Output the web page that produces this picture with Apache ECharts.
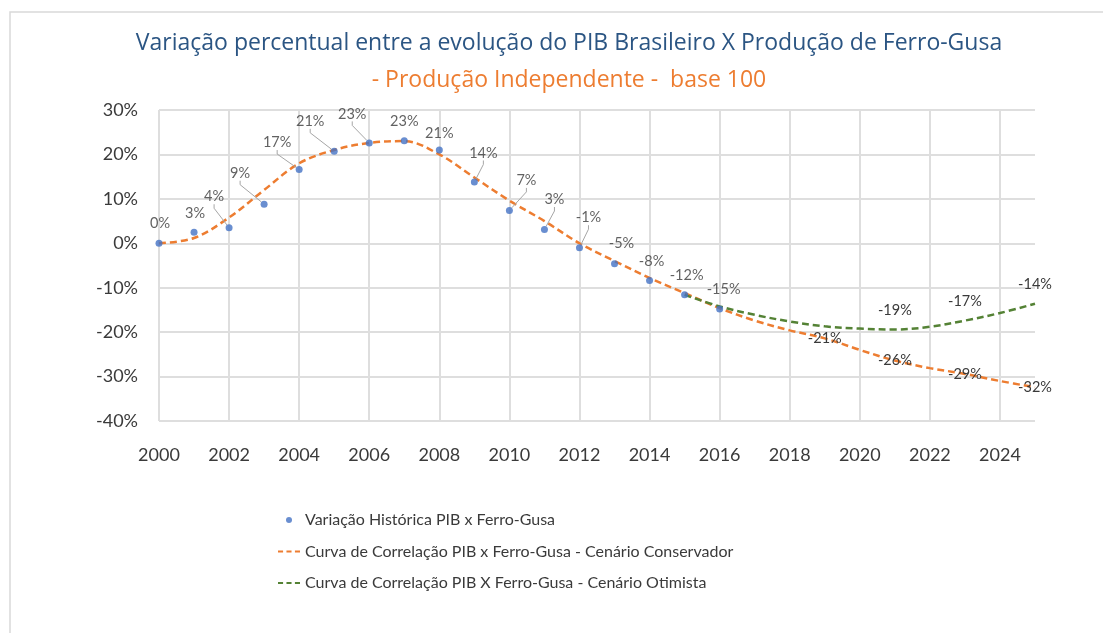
<!DOCTYPE html>
<html>
<head>
<meta charset="utf-8">
<script src="https://cdn.jsdelivr.net/npm/echarts@6/dist/echarts.min.js"></script>
<style>
  html, body { margin: 0; padding: 0; background: #ffffff; }
  #chart { width: 1103px; height: 633px; }
</style>
</head>
<body>
<div id="chart"></div>
<script>
// Titles and legend names
const titleText = 'Variação percentual entre a evolução do PIB Brasileiro X Produção de Ferro-Gusa';
const subtitleText = '- Produção Independente -  base 100';
const nameHist = 'Variação Histórica PIB x Ferro-Gusa';
const nameConserv = 'Curva de Correlação PIB x Ferro-Gusa - Cenário Conservador';
const nameOptim = 'Curva de Correlação PIB X Ferro-Gusa - Cenário Otimista';

// Historical variation (%), one point per year
const histYears = [2000, 2001, 2002, 2003, 2004, 2005, 2006, 2007, 2008, 2009, 2010, 2011, 2012, 2013, 2014, 2015, 2016];
const histValues = [0, 2.5, 3.5, 8.8, 16.6, 20.7, 22.6, 23.1, 21.0, 13.8, 7.4, 3.1, -1.0, -4.6, -8.4, -11.6, -14.8];

// Correlation curve, conservative scenario (%)
const conservYears = [2000, 2001, 2002, 2003, 2004, 2005, 2006, 2007, 2008, 2009, 2010, 2011, 2012,
                      2013, 2014, 2015, 2016, 2017, 2018, 2019, 2020, 2021, 2022, 2023, 2024, 2025];
const conservValues = [0, 1.2, 5.8, 12.0, 18.0, 21.0, 22.6, 23.0, 20.0, 14.8, 9.6, 5.0, 0.0,
                       -4.0, -7.8, -11.2, -14.6, -17.4, -19.6, -21.4, -24.0, -26.4, -28.1, -29.4, -31.0, -32.4];
const conservLabelYears = [2019, 2021, 2023, 2025];

// Correlation curve, optimistic scenario (%)
const optimYears = [2015, 2016, 2017, 2018, 2019, 2020, 2021, 2022, 2023, 2024, 2025];
const optimValues = [-11.6, -14.2, -16.1, -17.6, -18.7, -19.2, -19.4, -18.8, -17.4, -15.7, -13.6];
const optimLabelYears = [2021, 2023, 2025];

// Axis ranges
const xMin = 2000, xMax = 2025, xStep = 2;
const yMin = -40, yMax = 30, yStep = 10;

// Where each historical label sits relative to its point (px)
const histLabelOffsets = [
  [1, -20], [1, -19], [-15, -31], [-24, -31], [-22, -27], [-24, -30], [-17, -29], [0, -19],
  [0, -17], [9, -29], [17, -30], [10, -30], [9, -30], [7, -20], [2, -19], [2, -19], [4, -20]
];

const FONT = 'Lato, "Liberation Sans", sans-serif';
const TITLE_FONT = '"Open Sans", Lato, sans-serif';
const TEXT = '#3a3a3a';
const pct = v => Math.round(v) + '%';

const histData = histYears.map((yr, i) => ({
  value: [yr, histValues[i]],
  labelLine: { show: histLabelOffsets[i][1] <= -25 }
}));
const conservData = conservYears.map((yr, i) => ({
  value: [yr, conservValues[i]],
  label: { show: conservLabelYears.includes(yr) }
}));
const optimData = optimYears.map((yr, i) => ({
  value: [yr, optimValues[i]],
  label: { show: optimLabelYears.includes(yr) }
}));

const chart = echarts.init(document.getElementById('chart'), null, { renderer: 'canvas' });

chart.setOption({
  backgroundColor: '#ffffff',
  animation: false,
  textStyle: { fontFamily: FONT },
  graphic: [{
    type: 'rect',
    silent: true,
    shape: { x: 10, y: 12, width: 1200, height: 800 },
    style: { fill: 'none', stroke: '#d9d9d9', lineWidth: 1.5 }
  }],
  title: [{
    text: titleText,
    left: 564, top: 27, textAlign: 'center',
    textStyle: { fontFamily: TITLE_FONT, fontSize: 23, fontWeight: 'normal', color: '#2B5583' }
  }, {
    text: subtitleText,
    left: 564, top: 64, textAlign: 'center',
    textStyle: { fontFamily: TITLE_FONT, fontSize: 23, fontWeight: 'normal', color: '#ED7D31' }
  }],
  legend: {
    orient: 'vertical',
    left: 273, top: 506,
    itemWidth: 22, itemHeight: 6, itemGap: 13.5,
    textStyle: { fontFamily: FONT, fontSize: 16, color: TEXT, lineHeight: 18 },
    data: [
      { name: nameHist, icon: 'circle', itemStyle: { color: '#4472C4' } },
      { name: nameConserv, icon: 'path://M0,0h6v2.4h-6zM10,0h6v2.4h-6zM20,0h6v2.4h-6z', itemStyle: { color: '#ED7D31' } },
      { name: nameOptim, icon: 'path://M0,0h6v2.4h-6zM10,0h6v2.4h-6zM20,0h6v2.4h-6z', itemStyle: { color: '#548235' } }
    ]
  },
  grid: { left: 159, right: 68, top: 110, bottom: 212, containLabel: false },
  xAxis: {
    type: 'value',
    min: xMin, max: xMax, interval: xStep,
    axisLine: { show: false },
    axisTick: { show: false },
    axisLabel: {
      margin: 25, showMaxLabel: false,
      formatter: v => String(v),
      fontFamily: FONT, fontSize: 18, color: TEXT
    },
    splitLine: { show: true, showMaxLine: false, lineStyle: { color: '#dedede', width: 2 } }
  },
  yAxis: {
    type: 'value',
    min: yMin, max: yMax, interval: yStep,
    axisLine: { show: false },
    axisTick: { show: false },
    axisLabel: {
      margin: 21, formatter: '{value}%',
      fontFamily: FONT, fontSize: 18, color: TEXT
    },
    splitLine: { show: true, lineStyle: { color: '#dedede', width: 2 } }
  },
  series: [{
    name: nameHist,
    type: 'scatter',
    z: 4,
    symbol: 'circle',
    symbolSize: 7,
    itemStyle: { color: '#4472C4' },
    data: histData,
    label: {
      show: true, position: 'inside',
      formatter: p => pct(p.value[1]),
      fontFamily: FONT, fontSize: 14.5, color: TEXT
    },
    labelLayout: p => {
      const o = histLabelOffsets[p.dataIndex];
      return { dx: o[0], dy: o[1] };
    },
    labelLine: { show: false, length2: 4, lineStyle: { color: '#a6a6a6', width: 1 } }
  }, {
    name: nameConserv,
    type: 'line',
    z: 2,
    smooth: 0.35,
    showSymbol: true,
    symbol: 'circle',
    symbolSize: 0,
    itemStyle: { color: '#ED7D31' },
    lineStyle: { color: '#ED7D31', width: 2.5, type: [7, 4] },
    data: conservData,
    label: {
      show: false, position: 'inside',
      formatter: p => pct(p.value[1]),
      fontFamily: FONT, fontSize: 14.5, color: TEXT
    }
  }, {
    name: nameOptim,
    type: 'line',
    z: 3,
    smooth: 0.35,
    showSymbol: true,
    symbol: 'circle',
    symbolSize: 0,
    itemStyle: { color: '#548235' },
    lineStyle: { color: '#548235', width: 2.5, type: [7, 4] },
    data: optimData,
    label: {
      show: false, position: 'top', distance: 12,
      formatter: p => pct(p.value[1]),
      fontFamily: FONT, fontSize: 14.5, color: TEXT
    }
  }]
});
</script>
</body>
</html>
